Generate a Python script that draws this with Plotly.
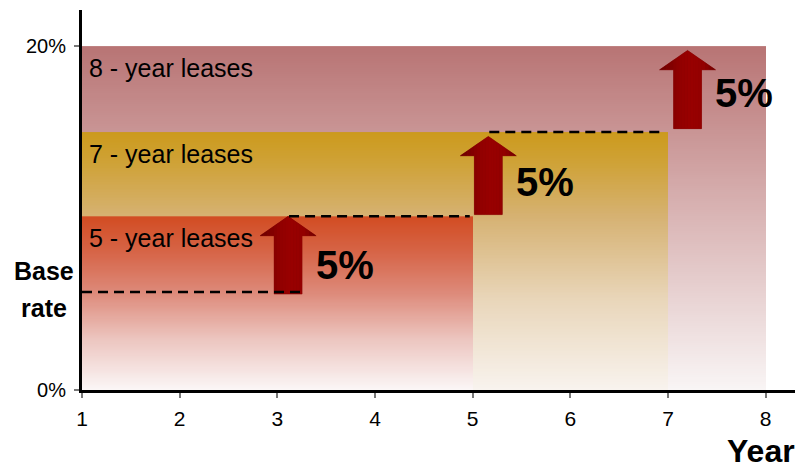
import numpy as np
import plotly.graph_objects as go

# ---------------- data ----------------
years = [1, 2, 3, 4, 5, 6, 7, 8]
lease_names = ["8 - year leases", "7 - year leases", "5 - year leases"]
lease_end_year = [8, 7, 5]
lease_rate = [20, 15, 10.1]
base_rate = 5.7
y_tick_vals = [0, 20]
y_tick_text = ["0%", "20%"]

step_x = [3.11, 5.16, 7.2]          # where the increase arrows sit
step_from = [5.58, 10.2, 15.2]
step_to = [10.1, 14.75, 19.75]
step_label = ["5%", "5%", "5%"]
step_label_y = [7.27, 12.1, 17.28]

dash_y = [5.7, 10.1, 15]
dash_x0 = [1, 3.12, 5.17]
dash_x1 = [3.27, 4.97, 6.96]

FONT = "Liberation Sans, Arial, Helvetica, sans-serif"

# ---------------- styles ----------------
lease_scales = [
    [[0, "rgb(249,245,245)"], [0.5, "rgb(218,182,182)"], [1, "rgb(184,116,116)"]],
    [[0, "rgb(248,243,238)"], [0.35, "rgb(233,214,186)"], [0.67, "rgb(214,178,115)"],
     [0.88, "rgb(207,162,55)"], [1, "rgb(204,154,28)"]],
    [[0, "rgb(251,247,247)"], [0.3, "rgb(236,196,190)"], [0.56, "rgb(221,138,122)"],
     [0.8, "rgb(214,100,70)"], [1, "rgb(210,76,34)"]],
]

fig = go.Figure()

# gradient rectangles (heatmaps with bin edges)
for name, xend, rate, cs in zip(lease_names, lease_end_year, lease_rate, lease_scales):
    n = 160
    y_edges = np.linspace(0, rate, n + 1)
    z = ((y_edges[:-1] + y_edges[1:]) / 2 / rate).reshape(-1, 1)
    fig.add_trace(go.Heatmap(
        x=[years[0], xend], y=y_edges, z=z, colorscale=cs, zmin=0, zmax=1,
        showscale=False, hoverinfo="skip"))

# arrows: a solid base shape plus vertical slices for a shaded look
half_shaft = 0.143
half_head = 0.287
head_h = 1.13


def arrow_color(t):
    stops = [(0, (105, 0, 0)), (0.35, (145, 0, 0)), (0.55, (153, 0, 0)),
             (0.8, (146, 0, 0)), (1, (108, 0, 0))]
    for (t0, c0), (t1, c1) in zip(stops[:-1], stops[1:]):
        if t <= t1:
            f = (t - t0) / (t1 - t0)
            c = [round(a + (b - a) * f) for a, b in zip(c0, c1)]
            return "rgb(%d,%d,%d)" % tuple(c)
    return "rgb(108,0,0)"


for xc, yb, yt in zip(step_x, step_from, step_to):
    yh = yt - head_h
    # base silhouette
    fig.add_trace(go.Scatter(
        x=[xc - half_shaft, xc + half_shaft, xc + half_shaft, xc + half_head, xc,
           xc - half_head, xc - half_shaft, xc - half_shaft],
        y=[yb, yb, yh, yh, yt, yh, yh, yb],
        mode="lines", fill="toself", fillcolor="rgb(140,0,0)",
        line=dict(color="rgb(125,0,0)", width=0.5),
        hoverinfo="skip", showlegend=False))
    us = np.unique(np.concatenate([
        np.linspace(-half_head, -half_shaft, 5),
        np.linspace(-half_shaft, 0, 6),
        np.linspace(0, half_shaft, 6),
        np.linspace(half_shaft, half_head, 5)]))

    def top(u):
        return yt - (yt - yh) * abs(u) / half_head

    for u0, u1 in zip(us[:-1], us[1:]):
        m = (u0 + u1) / 2
        bot = yb if abs(m) < half_shaft else yh
        col = arrow_color((m + half_head) / (2 * half_head))
        fig.add_trace(go.Scatter(
            x=[xc + u0, xc + u1, xc + u1, xc + u0, xc + u0],
            y=[bot, bot, top(u1), top(u0), bot],
            mode="none", fill="toself", fillcolor=col,
            hoverinfo="skip", showlegend=False))

# dashed guide lines (drawn above the arrows)
for y, x0, x1 in zip(dash_y, dash_x0, dash_x1):
    fig.add_trace(go.Scatter(x=[x0, x1], y=[y, y], mode="lines",
                             line=dict(color="black", width=2.5, dash="10px,6px"),
                             hoverinfo="skip", showlegend=False))

annotations = []
for name, rate in zip(lease_names, lease_rate):
    annotations.append(dict(x=1.05, y=rate, yshift=-22, xref="x", yref="y",
                            text=name, showarrow=False, xanchor="left", yanchor="middle",
                            font=dict(family=FONT, size=25, color="black")))
for xc, ly, lab in zip(step_x, step_label_y, step_label):
    annotations.append(dict(x=xc + 0.265, y=ly, xref="x", yref="y",
                            text="<b>%s</b>" % lab, showarrow=False,
                            xanchor="left", yanchor="middle",
                            font=dict(family=FONT, size=40, color="black")))
annotations.append(dict(x=-0.0533, y=base_rate, yshift=21, xref="paper", yref="y",
                        text="<b>Base</b>", showarrow=False, xanchor="center",
                        yanchor="middle", font=dict(family=FONT, size=25, color="black")))
annotations.append(dict(x=-0.0533, y=base_rate, yshift=-16, xref="paper", yref="y",
                        text="<b>rate</b>", showarrow=False, xanchor="center",
                        yanchor="middle", font=dict(family=FONT, size=25, color="black")))
annotations.append(dict(x=1.003, y=-0.16, xref="paper", yref="paper",
                        text="<b>Year</b>", showarrow=False, xanchor="right",
                        yanchor="middle", font=dict(family=FONT, size=32, color="black")))

fig.update_layout(
    width=806, height=468,
    margin=dict(l=82, r=11, t=10, b=78),
    paper_bgcolor="white", plot_bgcolor="white",
    showlegend=False,
    annotations=annotations,
    xaxis=dict(range=[1, 8.3], tickvals=years, ticks="outside", ticklen=5,
               tickwidth=2, tickcolor="#777", showline=True, linecolor="black",
               linewidth=3, showgrid=False, zeroline=False, ticklabelstandoff=3,
               tickfont=dict(family=FONT, size=21, color="black")),
    yaxis=dict(range=[0, 22.1], tickvals=y_tick_vals, ticktext=y_tick_text,
               ticks="outside", ticklen=5, tickwidth=2, tickcolor="#777",
               showline=True, linecolor="black", linewidth=3, showgrid=False,
               zeroline=False, ticklabelstandoff=4,
               tickfont=dict(family=FONT, size=20, color="black")),
)

fig.write_html("out.html")
